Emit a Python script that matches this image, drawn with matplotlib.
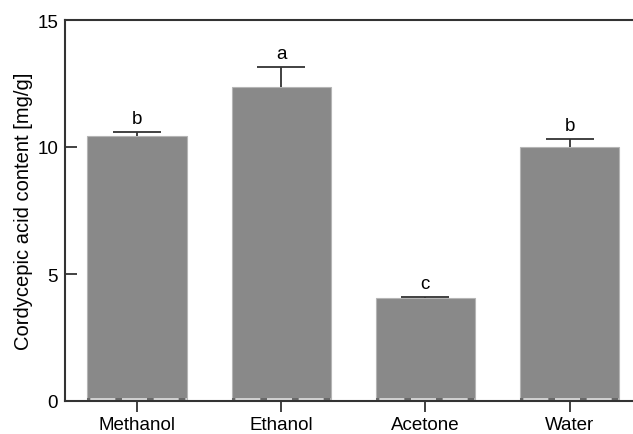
import matplotlib.pyplot as plt
import numpy as np

plt.rcParams['font.family'] = ['Liberation Sans', 'DejaVu Sans']

solvents = ['Methanol', 'Ethanol', 'Acetone', 'Water']
content = [10.44, 12.35, 4.04, 9.99]
sd = [0.14, 0.80, 0.05, 0.31]
letters = ['b', 'a', 'c', 'b']

bar_color = '#898989'
axis_color = '#333333'

fig = plt.figure(figsize=(6.33, 4.35), dpi=100)
ax = fig.add_axes([65 / 633, 33 / 435, 1 - 65 / 633, 381 / 435])

x = np.arange(len(solvents))
width = 0.69
ax.bar(x, content, width=width, color=bar_color, edgecolor='#b5b5b5',
       linewidth=0.8, zorder=2)
eb = ax.errorbar(x, content, yerr=[np.zeros(len(sd)), sd], fmt='none',
                 ecolor=axis_color, elinewidth=1.3, capsize=17.5,
                 capthick=1.3, zorder=3)
# only the upper cap is drawn in the original
eb[1][0].set_visible(False)

# faint dashed bottom edge of the bars
ax.hlines([0.07] * len(x), x - width / 2, x + width / 2, colors='#dedede',
          linewidth=1.2, zorder=4)
ax.hlines([0.07] * len(x), x - width / 2, x + width / 2, colors='#555555',
          linewidth=1.2, linestyles=(2, (4, 15)), zorder=4)

for xi, v, e, t in zip(x, content, sd, letters):
    ax.text(xi, v + e + 0.55, t, ha='center', va='center', fontsize=13.5,
            color='black')

ax.set_xlim(-0.5, 3.44)
ax.set_ylim(0, 15)
ax.set_yticks([0, 5, 10, 15])
ax.set_xticks(x)
ax.set_xticklabels(solvents)
ax.set_ylabel('Cordycepic acid content [mg/g]', fontsize=14.5, labelpad=3)

ax.spines['right'].set_visible(False)
for s in ['left', 'bottom', 'top']:
    ax.spines[s].set_color(axis_color)
    ax.spines[s].set_linewidth(1.5)

ax.tick_params(axis='y', direction='in', length=8.5, width=1.3,
               color=axis_color, labelsize=13.5, pad=5)
ax.tick_params(axis='x', direction='out', length=8, width=1.3,
               color=axis_color, labelsize=13.5, pad=3)

fig.savefig('out.png', dpi=100)
